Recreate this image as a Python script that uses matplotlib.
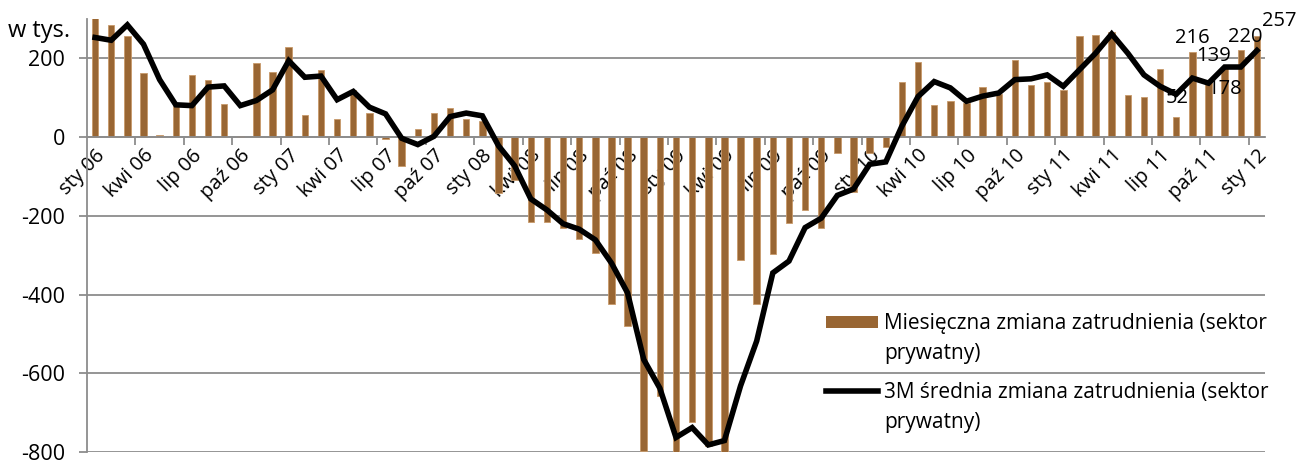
import matplotlib
matplotlib.use("Agg")
import matplotlib.pyplot as plt
from matplotlib.lines import Line2D
from matplotlib.patches import Patch
import numpy as np

plt.rcParams['font.family'] = ['Open Sans', 'DejaVu Sans']

months = ["sty", "lut", "mar", "kwi", "maj", "cze", "lip", "sie", "wrz", "paź", "lis", "gru"]
categories = [f"{m} {y:02d}" for y in range(6, 13) for m in months][:73]

monthly_change = [
    305, 286, 258, 164, 6, 79, 157, 144, 85, 3, 189, 166,
    229, 56, 171, 46, 120, 61, -4, -73, 20, 61, 75, 47,
    40, -142, -110, -215, -215, -230, -259, -295, -425, -479, -797, -657,
    -806, -723, -784, -801, -311, -425, -296, -219, -184, -232, -41, -140,
    -40, -26, 140, 192, 82, 91, 86, 127, 109, 195, 133, 139,
    119, 256, 260, 268, 107, 101, 174, 52, 216, 139, 178, 220,
    257,
]

avg_3m = [
    253, 246, 285, 236, 146, 82, 80, 127, 130, 80, 93, 120,
    194, 152, 155, 95, 116, 76, 59, -3, -19, 2, 52, 61,
    54, -22, -73, -157, -185, -220, -234, -261, -320, -396, -565, -638,
    -763, -738, -782, -771, -632, -518, -345, -315, -230, -206, -148, -132,
    -69, -63, 28, 103, 141, 125, 91, 104, 112, 146, 148, 158,
    129, 171, 213, 262, 213, 158, 129, 109, 150, 137, 178, 178,
    220,
]

tick_labels = [
    "sty 06", "kwi 06", "lip 06", "paź 06", "sty 07", "kwi 07", "lip 07", "paź 07",
    "sty 08", "kwi 08", "lip 08", "paź 08", "sty 09", "kwi 09", "lip 09", "paź 09",
    "sty 10", "kwi 10", "lip 10", "paź 10", "sty 11", "kwi 11", "lip 11", "paź 11",
    "sty 12",
]

label_values = [52, 216, 139, 178, 220, 257]
label_index = [67, 68, 69, 70, 71, 72]
label_offsets = [(1, 13.5), (0, 10), (3.5, 19), (0, -16), (3, 9.7), (16, 10.4)]

bar_label = "Miesięczna zmiana zatrudnienia (sektor"
line_label = "3M średnia zmiana zatrudnienia (sektor"
wrap_label = "prywatny)"

BROWN = "#996633"
GRID = "#8c8c8c"

fig = plt.figure(figsize=(12.97, 4.62), dpi=100)
ax = fig.add_axes([87 / 1297, 1 - 452 / 462, (1265 - 87) / 1297, (452 - 19) / 462])

x = np.arange(len(categories))
ax.bar(x, monthly_change, width=0.4, color=BROWN, edgecolor="#c89a6a", linewidth=0.6, zorder=2)
ax.plot(x, avg_3m, color="black", linewidth=4, solid_joinstyle="miter", zorder=3)

ax.set_xlim(-0.5, len(categories) - 0.5)
ax.set_ylim(-800, 300)

ax.set_yticks(np.arange(-800, 201, 200))
ax.set_yticklabels([f"{v:d}" for v in range(-800, 201, 200)])
ax.yaxis.grid(True, color=GRID, linewidth=1.3, zorder=0)
ax.set_axisbelow(True)
ax.tick_params(axis="y", length=6, width=1.3, color=GRID, labelsize=15.5, pad=10)

for s in ["top", "right"]:
    ax.spines[s].set_visible(False)
ax.spines["left"].set_color(GRID)
ax.spines["left"].set_linewidth(1.3)
ax.spines["bottom"].set_position(("data", 0))
ax.spines["bottom"].set_color(GRID)
ax.spines["bottom"].set_linewidth(1.3)
ax.spines["bottom"].set_zorder(2.5)

ax.set_xticks(np.arange(2.5, len(categories), 3))
ax.set_xticklabels([])
ax.tick_params(axis="x", which="major", length=6, width=1.3, color=GRID, direction="out")
ax.set_xticks(np.arange(0, len(categories), 3), minor=True)
ax.set_xticklabels(tick_labels, minor=True, rotation=45, ha="right", va="top",
                   rotation_mode="anchor", fontsize=14.5)
ax.tick_params(axis="x", which="minor", length=0, pad=6)

for i, v, (dx, dy) in zip(label_index, label_values, label_offsets):
    ax.annotate(f"{v}", (i, v), xytext=(dx, dy), textcoords="offset points",
                ha="center", va="center", fontsize=14.5, zorder=4)

fig.text(8 / 1297, 1 - 31 / 462, "w tys.", fontsize=17, ha="left", va="center")

blank = Line2D([], [], color="none")
legend_kw = dict(loc="upper left", bbox_transform=fig.transFigure, frameon=False,
                 fontsize=15, handlelength=2.5, handleheight=0.5, handletextpad=0.3,
                 labelspacing=0.44, borderpad=0, borderaxespad=0)
leg1 = ax.legend([Patch(facecolor=BROWN, edgecolor="none"), blank], [bar_label, wrap_label],
                 bbox_to_anchor=(826 / 1297, 1 - 313 / 462), **legend_kw)
ax.add_artist(leg1)
ax.legend([Line2D([], [], color="black", linewidth=4), blank], [line_label, wrap_label],
          bbox_to_anchor=(826 / 1297, 1 - 382 / 462), **legend_kw)

fig.savefig("out.png", dpi=100)
